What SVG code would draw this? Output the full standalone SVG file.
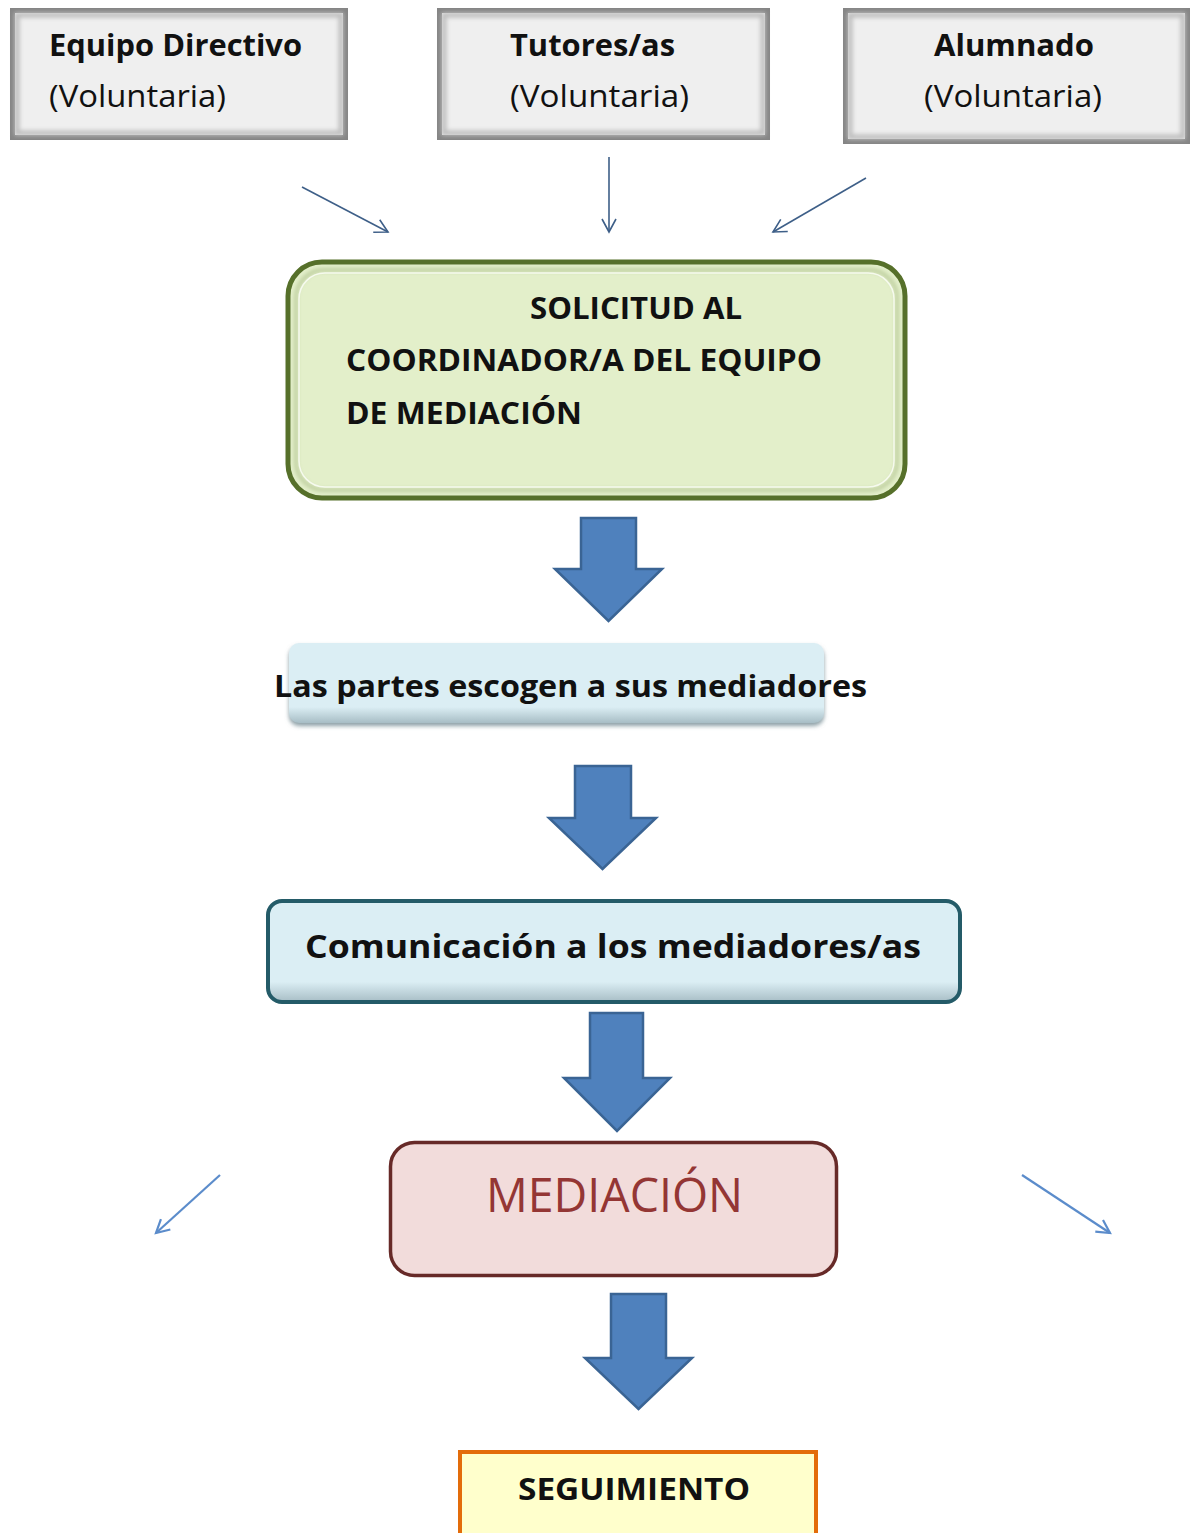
<svg xmlns="http://www.w3.org/2000/svg" width="1190" height="1533" viewBox="0 0 1190 1533">
<defs>
<style>
text{font-family:"Open Sans","Noto Sans","Liberation Sans",sans-serif;fill:#111}
.b{font-weight:bold}
.t30{font-size:31px}
.gray{fill:#efefef;stroke:#858585;stroke-width:5}
.grayin{fill:none;stroke:#bdbdbd;stroke-width:5}
.blk{fill:#4f81bd;stroke:#3a6494;stroke-width:2.5;stroke-linejoin:miter}
.thin{fill:none;stroke:#3e5f88;stroke-width:1.6}
.side{fill:none;stroke:#5b8ccb;stroke-width:2.2}
</style>
<filter id="blur2" x="-5%" y="-5%" width="110%" height="110%"><feGaussianBlur stdDeviation="2"/></filter>
<filter id="shadow" x="-5%" y="-10%" width="110%" height="130%"><feDropShadow dx="0" dy="3" stdDeviation="2" flood-color="#6f8890" flood-opacity="0.8"/></filter>
<linearGradient id="bluebot" x1="0" y1="0" x2="0" y2="1">
<stop offset="0.8" stop-color="#dbeef4"/><stop offset="1" stop-color="#a7bdc5"/>
</linearGradient>
<marker id="ah" viewBox="-16 -10 20 20" refX="0" refY="0" markerWidth="20" markerHeight="20" markerUnits="userSpaceOnUse" orient="auto">
<path d="M-13,-7 L0,0 L-13,7" fill="none" stroke="#3e5f88" stroke-width="1.6"/>
</marker>
<marker id="ah2" viewBox="-16 -10 20 20" refX="0" refY="0" markerWidth="20" markerHeight="20" markerUnits="userSpaceOnUse" orient="auto">
<path d="M-13,-7 L0,0 L-13,7" fill="none" stroke="#5b8ccb" stroke-width="2.2"/>
</marker>
</defs>
<rect width="1190" height="1533" fill="#ffffff"/>

<g id="equipo">
<rect class="gray" x="12.5" y="10.5" width="333" height="127"/>
<rect class="grayin" x="17" y="15" width="324" height="118" filter="url(#blur2)"/>
<text class="b t30" x="49" y="56" textLength="253" lengthAdjust="spacingAndGlyphs">Equipo Directivo</text>
<text class="t30" x="49" y="107" textLength="177" lengthAdjust="spacingAndGlyphs">(Voluntaria)</text>
</g>
<g id="tutores">
<rect class="gray" x="439.5" y="10.5" width="328" height="127"/>
<rect class="grayin" x="444" y="15" width="319" height="118" filter="url(#blur2)"/>
<text class="b t30" x="510" y="56" textLength="165" lengthAdjust="spacingAndGlyphs">Tutores/as</text>
<text class="t30" x="510" y="107" textLength="179" lengthAdjust="spacingAndGlyphs">(Voluntaria)</text>
</g>
<g id="alumnado">
<rect class="gray" x="845.5" y="10.5" width="342" height="131"/>
<rect class="grayin" x="850" y="15" width="333" height="122" filter="url(#blur2)"/>
<text class="b t30" x="934" y="56" textLength="160" lengthAdjust="spacingAndGlyphs">Alumnado</text>
<text class="t30" x="924" y="107" textLength="178" lengthAdjust="spacingAndGlyphs">(Voluntaria)</text>
</g>

<g id="solicitud">
<rect x="288" y="262" width="617" height="236" rx="34" fill="#e3efca" stroke="#56702a" stroke-width="5"/>
<rect x="296" y="270" width="601" height="220" rx="28" fill="none" stroke="#9fb37a" stroke-width="2" filter="url(#blur2)"/>
<rect x="299" y="273" width="595" height="214" rx="26" fill="none" stroke="#f6faee" stroke-width="1.5"/>
<text class="b t30" x="530" y="319" textLength="212" lengthAdjust="spacingAndGlyphs">SOLICITUD AL</text>
<text class="b t30" x="346" y="371" textLength="476" lengthAdjust="spacingAndGlyphs">COORDINADOR/A DEL EQUIPO</text>
<text class="b t30" x="346" y="424" textLength="236" lengthAdjust="spacingAndGlyphs">DE MEDIACIÓN</text>
</g>

<g id="partes">
<rect x="289" y="643" width="535" height="80" rx="10" fill="url(#bluebot)" filter="url(#shadow)"/>
<text class="b t30" x="274" y="697" textLength="593" lengthAdjust="spacingAndGlyphs">Las partes escogen a sus mediadores</text>
</g>

<g id="comunicacion">
<rect x="268" y="901" width="692" height="101" rx="14" fill="url(#bluebot)" stroke="#245b68" stroke-width="4"/>
<text class="b" font-size="33" x="305" y="958" textLength="616" lengthAdjust="spacingAndGlyphs">Comunicación a los mediadores/as</text>
</g>

<g id="mediacion">
<rect x="390.5" y="1142.5" width="446" height="133" rx="24" fill="#f2dcdb" stroke="#672a28" stroke-width="3.5"/>
<text font-size="48" x="486" y="1212" textLength="257" lengthAdjust="spacingAndGlyphs" style="fill:#943634">MEDIACIÓN</text>
</g>

<g id="seguimiento">
<rect x="460" y="1452" width="356" height="90" fill="#ffffcc" stroke="#e36c0a" stroke-width="4"/>
<text class="b t30" x="518" y="1500" textLength="232" lengthAdjust="spacingAndGlyphs">SEGUIMIENTO</text>
</g>

<g id="connectors">
<line class="thin" x1="302" y1="187" x2="388" y2="232" marker-end="url(#ah)"/>
<line class="thin" x1="609" y1="157" x2="609" y2="232" marker-end="url(#ah)"/>
<line class="thin" x1="866" y1="178" x2="773" y2="232" marker-end="url(#ah)"/>
<line class="side" x1="220" y1="1175" x2="156" y2="1233" marker-end="url(#ah2)"/>
<line class="side" x1="1022" y1="1175" x2="1110" y2="1233" marker-end="url(#ah2)"/>
<path class="blk" d="M581,518 H636 V569 H662 L608.5,621 L555,569 H581 Z"/>
<path class="blk" d="M575,766 H631 V818 H656 L602.5,869 L549,818 H575 Z"/>
<path class="blk" d="M590,1013 H643 V1078 H670 L617,1131 L564,1078 H590 Z"/>
<path class="blk" d="M611,1294 H666 V1358 H692 L638.5,1409 L585,1358 H611 Z"/>
</g>
</svg>
